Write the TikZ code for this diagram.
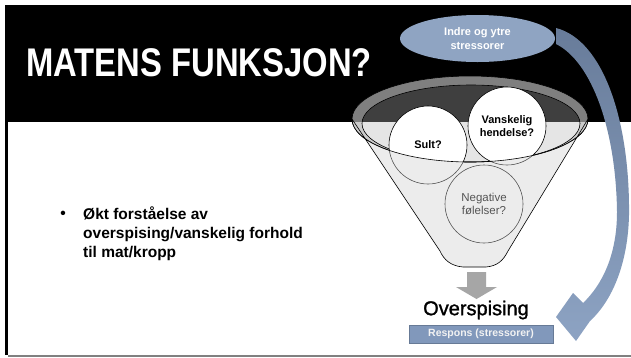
\documentclass[tikz,border=0pt]{standalone}
\usepackage{fontspec}
\setmainfont{Liberation Sans}
\newfontfamily\titlefont[FakeStretch=0.82]{Liberation Sans}
\newfontfamily\demifont[FakeBold=1.3]{Liberation Sans}
\usepackage{tikz}
\usetikzlibrary{shapes.geometric}
\usepackage{xcolor}
\definecolor{stressblue}{RGB}{143,164,194}
\definecolor{arrowdark}{RGB}{104,124,154}
\definecolor{arrowblue}{RGB}{141,163,195}
\definecolor{boxblue}{RGB}{129,152,187}
\definecolor{spoutgray}{RGB}{166,166,166}

\begin{document}
\begin{tikzpicture}[x=1pt, y=-1pt,
  bubble/.style={circle, draw=black, fill=white, line width=0.6pt, minimum size=78pt, inner sep=0pt, align=center, font=\bfseries\fontsize{11}{13}\selectfont},
  stressor/.style={ellipse, fill=stressblue, minimum width=155pt, minimum height=47pt, inner sep=0pt, align=center, text=white, font=\bfseries\fontsize{11}{14}\selectfont},
  respbox/.style={rectangle, fill=boxblue, draw=boxblue!80!black, line width=0.5pt, minimum width=144pt, minimum height=18pt, inner sep=0pt, text=white!95!black, font=\bfseries\fontsize{10.5}{12}\selectfont}]
  \useasboundingbox (0,0) rectangle (631,357);
  % slide frame
  \fill[white] (0,0) rectangle (631,357);
  \fill[black] (5,5) rectangle (631,122);
  \fill[black] (5,122) rectangle (8,355);
  \draw[black!50, line width=1.2pt] (8,356) -- (631,356);
  \node[anchor=base west, inner sep=0pt, text=white, font=\titlefont\bfseries\fontsize{40}{42}\selectfont] (title) at (26,76) {MATENS FUNKSJON?};
  % bullet text
  \node[inner sep=0pt, font=\bfseries\fontsize{15.5}{19}\selectfont] (dot) at (63,215) {•};
  \node[anchor=west, inner sep=0pt, align=left, font=\bfseries\fontsize{15.5}{19}\selectfont] (txt) at (83,234) {Økt forståelse av\\overspising/vanskelig forhold\\til mat/kropp};
  % funnel rim and inside
  \fill[black!29, fill opacity=0.7, even odd rule] (470,119) ellipse [x radius=118, y radius=43] (471,123.5) ellipse [x radius=109, y radius=38.5];
  \draw[black, line width=0.6pt] (470,119) ellipse [x radius=118, y radius=43];
  \filldraw[fill=black!29, fill opacity=0.35, draw=black, line width=0.6pt] (471,123.5) ellipse [x radius=109, y radius=38.5];
  % what goes into the funnel
  \node[bubble] (hunger) at (428,145) {Sult?};
  \node[bubble] (event) at (507,126) {Vanskelig\\hendelse?};
  \node[bubble, font=\fontsize{11.5}{13}\selectfont] (feel) at (484,204) {Negative\\følelser?};
  % funnel front
  \filldraw[fill=black!18, fill opacity=0.4, draw=black, line width=0.6pt]
    (352,119) -- (440,251) .. controls (444,260) and (451,266) .. (463,267) -- (486,267)
    .. controls (497,266) and (503,261) .. (508,251) -- (588,119)
    arc[start angle=0, end angle=180, x radius=118, y radius=43];
  \fill[spoutgray] (467,272) -- (486,272) -- (486,287) -- (497,287) -- (476.5,299) -- (456,287) -- (467,287) -- cycle;
  % result
  \node[inner sep=0pt, font=\demifont\fontsize{20}{24}\selectfont] (over) at (476,310) {Overspising};
  \node[respbox] (resp) at (481,334) {Respons (stressorer)};
  % stressors and the curved arrow back
  \node[stressor] (stress) at (477.5,38.5) {Indre og ytre\\stressorer};
  \shade[top color=arrowdark, bottom color=arrowblue]
    (556,28) .. controls (603,40) and (630,120) .. (629,215)
    .. controls (628,262) and (613,300) .. (590,321) -- (576,341) -- (556,317) -- (573,293) -- (583,303)
    .. controls (602,285) and (617,255) .. (617,212)
    .. controls (616,130) and (592,62) .. (556,44) -- cycle;
\end{tikzpicture}
\end{document}
